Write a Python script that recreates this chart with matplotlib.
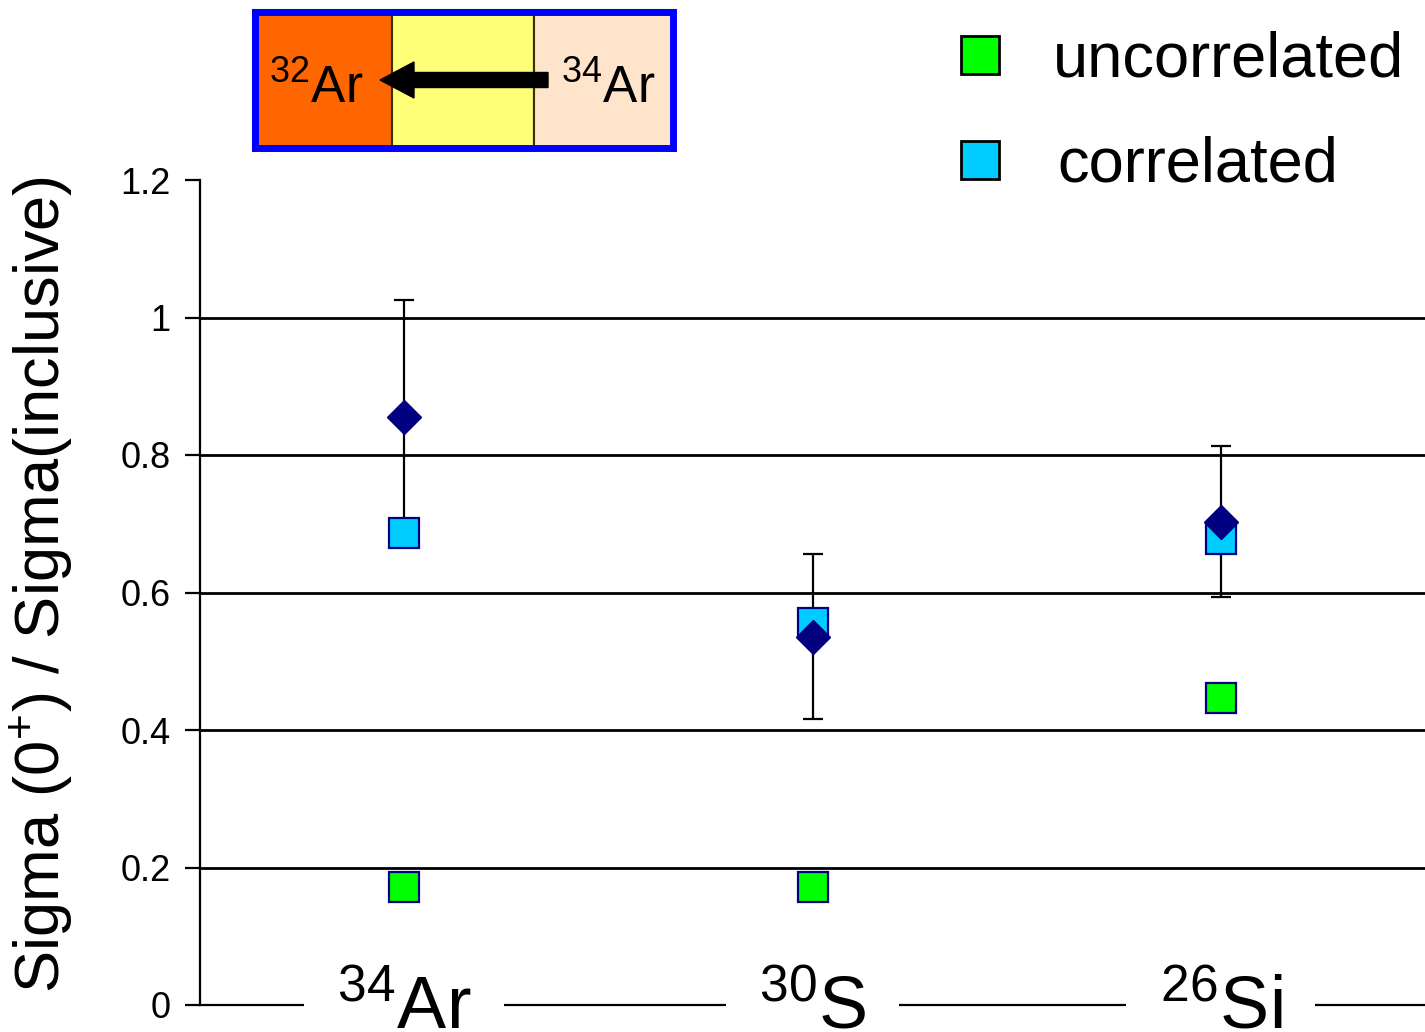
import matplotlib
matplotlib.use("Agg")
import matplotlib.pyplot as plt
from matplotlib.patches import Rectangle, FancyArrow

plt.rcParams['font.family'] = ['Liberation Sans', 'DejaVu Sans']
plt.rcParams['mathtext.fontset'] = 'custom'
plt.rcParams['mathtext.rm'] = 'Liberation Sans'
plt.rcParams['mathtext.it'] = 'Liberation Sans'
plt.rcParams['mathtext.default'] = 'rm'

# ---- data ----
categories = [r'$^{34}$Ar', r'$^{30}$S', r'$^{26}$Si']
x_pos = [0.5, 1.5, 2.5]
measured = [0.855, 0.536, 0.703]
measured_err = [0.170, 0.120, 0.110]
correlated = [0.687, 0.555, 0.678]
uncorrelated = [0.171, 0.171, 0.447]
y_ticks = [0, 0.2, 0.4, 0.6, 0.8, 1.0, 1.2]
y_tick_labels = ['0', '0.2', '0.4', '0.6', '0.8', '1', '1.2']
grid_levels = [0.2, 0.4, 0.6, 0.8, 1.0]

W, H = 1425, 1032
fig = plt.figure(figsize=(W / 100, H / 100), dpi=100)
ax = fig.add_axes([200 / W, (H - 1005) / H, 1 - 200 / W, (1005 - 180) / H])
ax.set_xlim(0, 3)
ax.set_ylim(0, 1.2)

for g in grid_levels:
    ax.axhline(g, color='black', lw=2.0, zorder=1)

ax.errorbar(x_pos, measured, yerr=measured_err, fmt='none', ecolor='black',
            elinewidth=1.6, capsize=7, capthick=1.6, zorder=3)
ax.plot(x_pos, correlated, linestyle='none', marker='s', markersize=21,
        markerfacecolor='#00CCFF', markeredgecolor='#000080', markeredgewidth=1.6, zorder=4)
ax.plot(x_pos, uncorrelated, linestyle='none', marker='s', markersize=21,
        markerfacecolor='#00FF00', markeredgecolor='#000080', markeredgewidth=1.6, zorder=4)
ax.plot(x_pos, measured, linestyle='none', marker='D', markersize=17,
        markerfacecolor='#000080', markeredgecolor='#000080', zorder=5)

for s in ['top', 'right']:
    ax.spines[s].set_visible(False)
ax.spines['left'].set_linewidth(1.6)
ax.spines['bottom'].set_linewidth(1.6)
ax.spines['left'].set_zorder(2)
ax.spines['bottom'].set_zorder(2)

ax.set_yticks(y_ticks)
ax.set_yticklabels(y_tick_labels, fontsize=26)
ax.tick_params(axis='y', direction='out', length=11, width=1.6, pad=10)
ax.set_xticks([])

for xp, lab in zip(x_pos, categories):
    ax.text(xp, -0.005, lab, fontsize=53, ha='center', va='center',
            transform=ax.get_xaxis_transform(), clip_on=False, zorder=6,
            bbox=dict(facecolor='white', edgecolor='none', pad=24))

fig.text(42 / W, 1 - 585 / H, r'Sigma (0$^{+}$) / Sigma(inclusive)', rotation=90,
         fontsize=45.5, ha='center', va='center')

# ---- legend (manual) ----
leg_items = [('uncorrelated', '#00FF00', 55, 1053), ('correlated', '#00CCFF', 160, 1057)]
for label, col, yy, xt in leg_items:
    fig.patches.append(Rectangle(((980 - 19) / W, 1 - (yy + 19) / H), 38 / W, 38 / H,
                                 transform=fig.transFigure, facecolor=col,
                                 edgecolor='black', lw=2))
    fig.text(xt / W, 1 - (yy + 5) / H, label, fontsize=45.5, ha='left', va='center')

# ---- inset diagram ----
cells = [(253, 392, '#FF6600'), (392, 534, '#FFFF77'), (534, 675, '#FFE4CC')]
for x0, x1, c in cells:
    fig.patches.append(Rectangle((x0 / W, 1 - 150 / H), (x1 - x0) / W, 140 / H,
                                 transform=fig.transFigure, facecolor=c,
                                 edgecolor='#333300', lw=1.5))
fig.patches.append(Rectangle((255 / W, 1 - 148 / H), 418 / W, 136 / H,
                             transform=fig.transFigure, facecolor='none',
                             edgecolor='#0000FF', lw=5))
arr = FancyArrow(548 / W, 1 - 80 / H, -(168 - 34) / W, 0, width=15 / H,
                 head_width=36 / H, head_length=34 / W,
                 transform=fig.transFigure, color='black')
fig.patches.append(arr)
fig.text(316 / W, 1 - 89 / H, r'$^{32}$Ar', fontsize=37, ha='center', va='center')
fig.text(608 / W, 1 - 89 / H, r'$^{34}$Ar', fontsize=37, ha='center', va='center')

fig.savefig('out.png', dpi=100, facecolor='white')
